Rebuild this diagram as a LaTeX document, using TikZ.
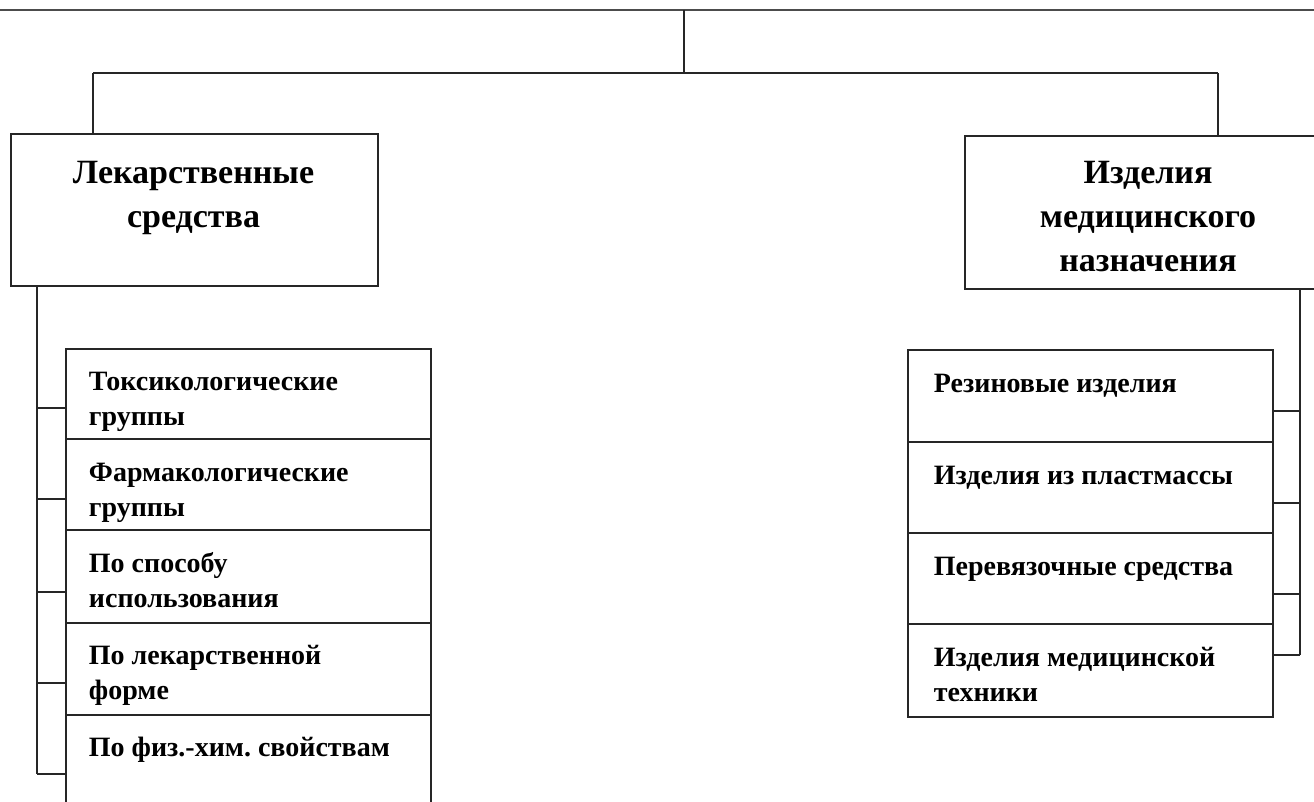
\documentclass[tikz,border=0pt]{standalone}
\usepackage{fontspec}
\setmainfont{Liberation Serif}
\frenchspacing
\begin{document}
\begin{tikzpicture}[x=1pt,y=-1pt, line width=1.9pt, draw=black!85,
  box/.style={draw, rectangle, inner sep=0pt, anchor=north west, minimum width=365pt},
  lbl/.style={font=\fontsize{28}{35}\selectfont\bfseries, anchor=base west, inner sep=0pt, align=left, text=black},
  hlbl/.style={font=\fontsize{34}{44}\selectfont\bfseries, anchor=base, inner sep=0pt, align=center, text=black}]
\useasboundingbox (0,0) rectangle (1314,801);
\clip (0,0) rectangle (1314,801);
% top-level boxes
\node[box, minimum width=367pt, minimum height=152pt] (lek) at (10,133) {};
\node[box, minimum width=368pt, minimum height=153pt] (izd) at (964,135) {};
\node[hlbl] (lekT) at (193.5,227) {Лекарственные\\средства};
\node[hlbl] (izdT) at (1148,271) {Изделия\\медицинского\\назначения};
% left sub boxes
\node[box, minimum height=90pt] (s1) at (65,348) {};
\node[box, minimum height=91pt] (s2) at (65,438) {};
\node[box, minimum height=93pt] (s3) at (65,529) {};
\node[box, minimum height=92pt] (s4) at (65,622) {};
\node[box, minimum height=120pt] (s5) at (65,714) {};
\node[lbl] (s1T) at (88,425) {Токсикологические\\группы};
\node[lbl] (s2T) at (88,516) {Фармакологические\\группы};
\node[lbl] (s3T) at (88,607) {По способу\\использования};
\node[lbl] (s4T) at (88,699) {По лекарственной\\форме};
\node[lbl] (s5T) at (88,756) {По физ.-хим. свойствам};
% right sub boxes
\node[box, minimum height=92pt] (r1) at (907,349) {};
\node[box, minimum height=91pt] (r2) at (907,441) {};
\node[box, minimum height=91pt] (r3) at (907,532) {};
\node[box, minimum height=93pt] (r4) at (907,623) {};
\node[lbl] (r1T) at (933,392) {Резиновые изделия};
\node[lbl] (r2T) at (933,484) {Изделия из пластмассы};
\node[lbl] (r3T) at (933,575) {Перевязочные средства};
\node[lbl] (r4T) at (933,701) {Изделия медицинской\\техники};
% top connectors
\coordinate (topL) at (0,10);
\coordinate (topR) at (1314,10);
\coordinate (topM) at (684,10);
\coordinate (midM) at (684,73);
\coordinate (hl) at (93,73);
\coordinate (hr) at (1218,73);
\draw[line width=2.6pt, black!70] (topL) -- (topR);
\draw (topM) -- (midM);
\draw (hl) -- (hr);
\draw (hl) -- (hl |- lek.north);
\draw (hr) -- (hr |- izd.north);
% left bus
\coordinate (lx) at (37,0);
\coordinate (l1) at (37,408);
\coordinate (l2) at (37,499);
\coordinate (l3) at (37,592);
\coordinate (l4) at (37,683);
\coordinate (l5) at (37,774);
\draw (lek.south -| lx) -- (l5);
\draw (l1) -- (l1 -| s1.west);
\draw (l2) -- (l2 -| s2.west);
\draw (l3) -- (l3 -| s3.west);
\draw (l4) -- (l4 -| s4.west);
\draw (l5) -- (l5 -| s5.west);
% right bus
\coordinate (rx) at (1300,0);
\coordinate (q1) at (1300,411);
\coordinate (q2) at (1300,503);
\coordinate (q3) at (1300,594);
\coordinate (q4) at (1300,655);
\draw (izd.south -| rx) -- (q4);
\draw (q1) -- (q1 -| r1.east);
\draw (q2) -- (q2 -| r2.east);
\draw (q3) -- (q3 -| r3.east);
\draw (q4) -- (q4 -| r4.east);
\end{tikzpicture}
\end{document}
